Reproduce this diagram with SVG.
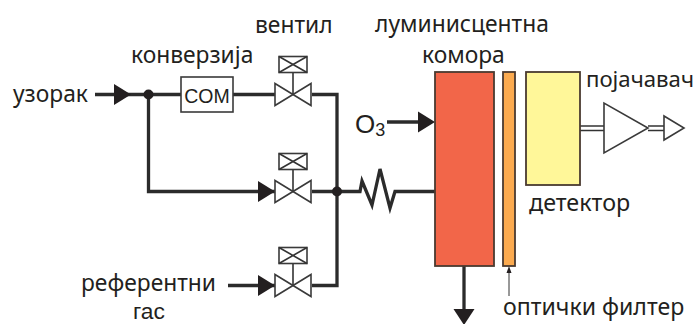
<svg xmlns="http://www.w3.org/2000/svg" width="697" height="324" viewBox="0 0 697 324">
<style>
.w{fill:none;stroke:#2b2b2b;stroke-width:3.300;stroke-linejoin:miter}
.t{fill:none;stroke:#333;stroke-width:1.600}
.h{fill:#231f20;stroke:none}
.v{fill:#fff;stroke:#3a3a3a;stroke-width:1.600}
text{font-family:"Noto Sans","Open Sans",sans-serif;font-size:22.800px;fill:#231f20}
.a{font-family:"Liberation Sans",sans-serif}
</style>
<defs>
<g id="valve">
<path class="v" d="M-18-11V11L18-11V11Z"/>
<path class="t" d="M0 0V-22"/>
<rect class="v" x="-14" y="-38" width="28" height="16"/>
<path class="t" d="M-14-38L14-22M14-38L-14-22"/>
</g>
<path id="head" class="h" d="M-17-10.500L0 0L-17 10.500Z"/>
</defs>
<g id="connectors">
<path class="w" d="M95 94.500H181M233 94.500H275M312 94.500H337V285.500H312M148.500 94.500V191.500H275M312 191.500H360L362 181L372 205L380 169L390 208L395 191.500H435M228 285.500H275"/>
<use href="#head" x="131" y="94.500"/>
<use href="#head" x="275" y="191.500"/>
<use href="#head" x="275" y="285.500"/>
<circle class="h" cx="148.500" cy="94.500" r="5"/>
<circle class="h" cx="337" cy="191.500" r="5"/>
<path class="w" d="M387 122H420"/>
<use href="#head" x="435" y="122"/>
<path class="w" d="M464 266V310"/>
<path class="h" d="M453.500 309H474.500L464 325Z"/>
<path class="t" d="M509 296V270" style="stroke-width:1"/>
<path class="h" d="M506.500 273L509 266L511.500 273Z"/>
<path class="t" d="M580 126H604M580 130.500H604M648 126H664M648 130.500H664"/>
</g>
<g id="com"><rect class="v" x="181" y="77" width="52" height="35"/><text class="a" x="207" y="103" text-anchor="middle" style="font-size:19.500px">COM</text></g>
<g id="valve1"><use href="#valve" x="293" y="94.500"/></g>
<g id="valve2"><use href="#valve" x="293" y="191.500"/></g>
<g id="valve3"><use href="#valve" x="293" y="285.500"/></g>
<g id="chamber"><rect x="435" y="72" width="59" height="194" fill="#f26649" stroke="#4a3a30" stroke-width="1.800"/></g>
<g id="filter"><rect x="503" y="72" width="12" height="194" fill="#fbaa4f" stroke="#4a3a30" stroke-width="1.800"/></g>
<g id="detector"><rect x="526" y="72" width="54" height="113" fill="#fff799" stroke="#4a3a30" stroke-width="1.800"/></g>
<g id="amp1"><path class="v" d="M604 103V153L648 128Z"/></g>
<g id="amp2"><path class="v" d="M664 116V140L684 128Z"/></g>
<g id="labels">
<text x="13" y="102">узорак</text>
<text x="131" y="63">конверзија</text>
<text x="255" y="33">вентил</text>
<text x="375" y="32">луминисцентна</text>
<text x="422" y="63">комора</text>
<text x="586" y="87" style="font-size:22.200px">појачавач</text>
<text x="529" y="211" style="font-size:23.300px">детектор</text>
<text x="503" y="315" style="font-size:23.100px">оптички филтер</text>
<text x="81" y="291">референтни</text>
<text class="a" x="133" y="319">гас</text>
<text class="a" x="355" y="133" style="font-size:26px">O<tspan style="font-size:18px" dy="3">3</tspan></text>
</g>
</svg>
